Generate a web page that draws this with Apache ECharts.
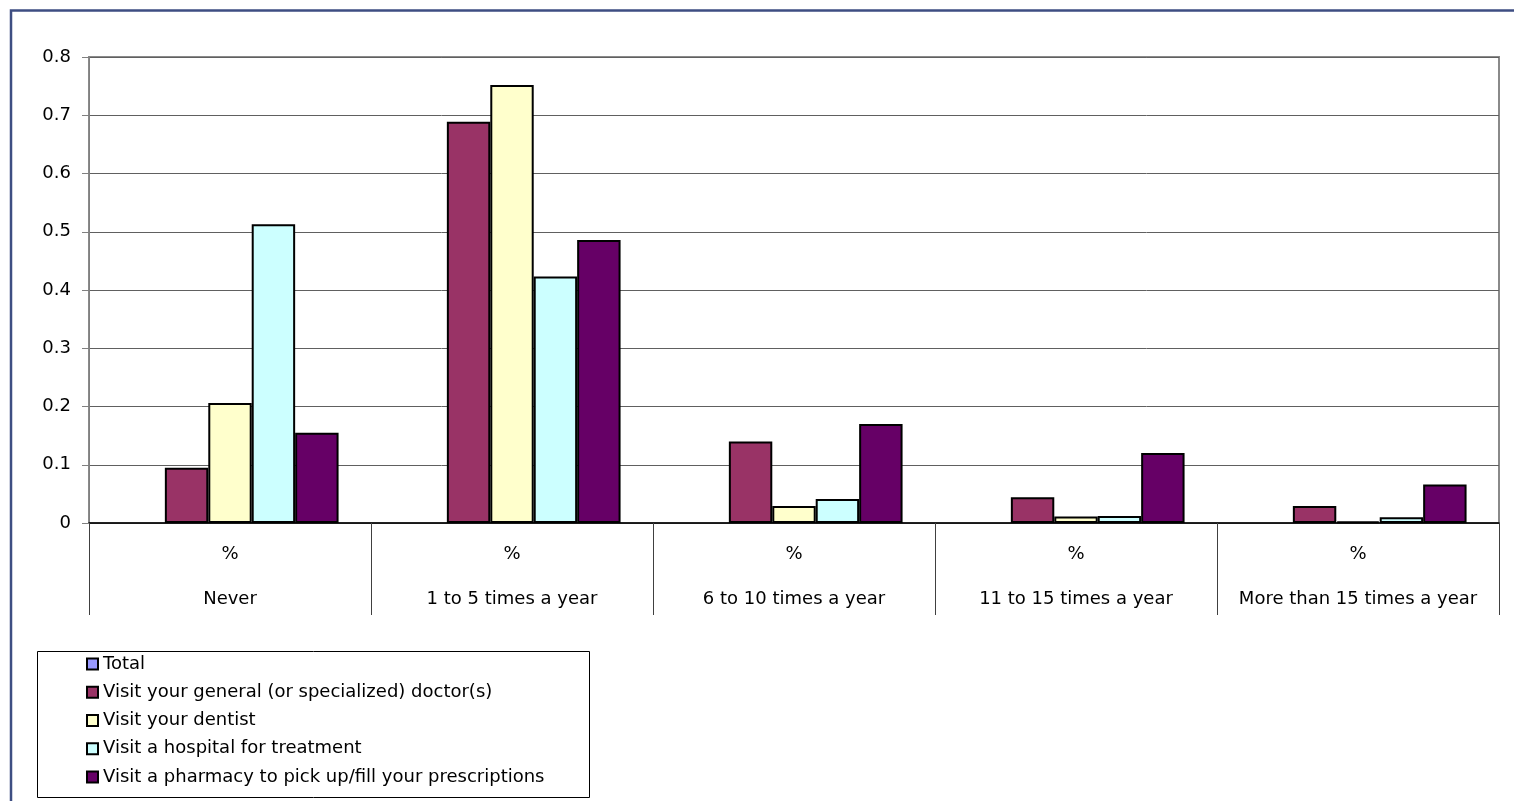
<!DOCTYPE html>
<html>
<head>
<meta charset="utf-8">
<script src="https://cdn.jsdelivr.net/npm/echarts@6/dist/echarts.min.js"></script>
<style>
  html, body { margin: 0; padding: 0; background: #ffffff; }
  #chart { width: 1514px; height: 801px; }
</style>
</head>
<body>
<div id="chart"></div>
<script>
// Visit frequency categories (x axis)
const categories = ['Never', '1 to 5 times a year', '6 to 10 times a year', '11 to 15 times a year', 'More than 15 times a year'];
// Share of respondents per category, one array per series
const totalValues = [];
const doctorValues = [0.095, 0.689, 0.140, 0.044, 0.029];
const dentistValues = [0.206, 0.752, 0.029, 0.011, 0.003];
const hospitalValues = [0.513, 0.423, 0.041, 0.012, 0.010];
const pharmacyValues = [0.155, 0.486, 0.170, 0.120, 0.066];
// Series names as shown in the legend
const seriesNames = [
  'Total',
  'Visit your general (or specialized) doctor(s)',
  'Visit your dentist',
  'Visit a hospital for treatment',
  'Visit a pharmacy to pick up/fill your prescriptions'
];
// Y axis tick values
const yTicks = [0, 0.1, 0.2, 0.3, 0.4, 0.5, 0.6, 0.7, 0.8];

const colors = ['#9999FF', '#993366', '#FFFFCC', '#CCFFFF', '#660066'];
const seriesData = [totalValues, doctorValues, dentistValues, hospitalValues, pharmacyValues];
const FONT = '"DejaVu Sans", "Liberation Sans", Arial, sans-serif';

const chart = echarts.init(document.getElementById('chart'), null, { renderer: 'canvas' });

chart.setOption({
  animation: false,
  backgroundColor: '#ffffff',
  textStyle: { fontFamily: FONT },
  grid: {
    left: 89, right: 15, top: 57, bottom: 278,
    show: true, borderColor: '#8a8a8a', borderWidth: 2, backgroundColor: 'transparent'
  },
  legend: {
    orient: 'vertical',
    left: 86, top: 654,
    padding: 0,
    itemWidth: 11, itemHeight: 11,
    itemGap: 8.25,
    icon: 'rect',
    textStyle: { fontFamily: FONT, fontSize: 18, color: '#000', lineHeight: 20 },
    data: seriesNames
  },
  xAxis: {
    type: 'category',
    data: categories,
    axisLine: { lineStyle: { color: '#000', width: 1.5 } },
    axisTick: { show: true, length: 92, alignWithLabel: false, lineStyle: { color: '#404040', width: 1 } },
    axisLabel: {
      interval: 0,
      margin: 9,
      color: '#000',
      fontFamily: FONT,
      fontSize: 18,
      lineHeight: 45,
      formatter: (name) => '%\n' + name
    },
    splitLine: { show: false }
  },
  yAxis: {
    type: 'value',
    min: yTicks[0],
    max: yTicks[yTicks.length - 1],
    interval: yTicks[1] - yTicks[0],
    axisLine: { show: true, lineStyle: { color: '#808080', width: 1 } },
    axisTick: { show: true, inside: false, length: 7, lineStyle: { color: '#808080' } },
    axisLabel: {
      margin: 18,
      color: '#000',
      fontFamily: FONT,
      fontSize: 18,
      formatter: (v) => (Math.abs(v) < 1e-9 ? '0' : v.toFixed(1))
    },
    splitLine: { show: true, lineStyle: { color: '#606060', width: 1 } }
  },
  series: seriesNames.map((name, i) => ({
    name: name,
    type: 'bar',
    data: seriesData[i],
    barGap: '0%',
    barCategoryGap: '23%',
    itemStyle: { color: colors[i], borderColor: '#000', borderWidth: 2 },
    emphasis: { disabled: true }
  })),
  graphic: [
    // outer chart frame
    {
      type: 'rect',
      shape: { x: 11, y: 10.5, width: 2000, height: 2000 },
      style: { fill: 'none', stroke: '#3E4E82', lineWidth: 2.5 },
      silent: true
    },
    // legend frame
    {
      type: 'rect',
      shape: { x: 37.5, y: 651.5, width: 552, height: 146 },
      style: { fill: 'none', stroke: '#000', lineWidth: 1 },
      silent: true,
      z: 10
    }
  ]
});
</script>
</body>
</html>
